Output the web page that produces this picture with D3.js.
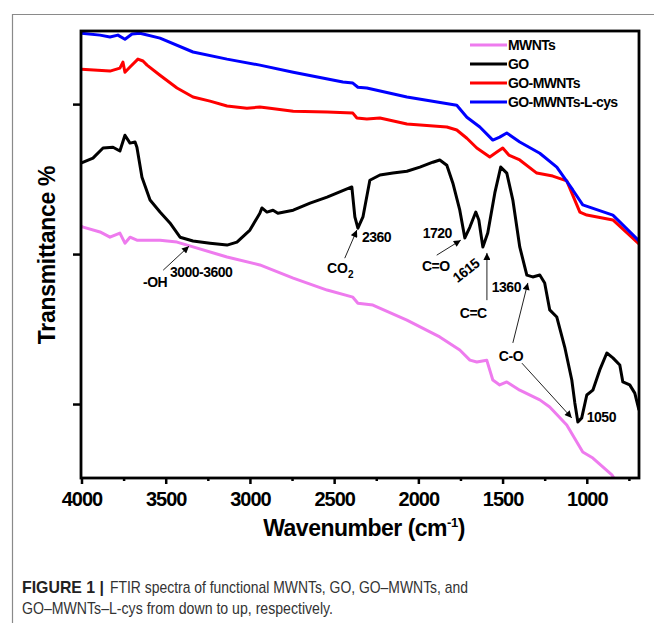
<!DOCTYPE html>
<html><head><meta charset="utf-8">
<script src="https://cdn.jsdelivr.net/npm/d3@7"></script>
<style>
body{margin:0;background:#fff;}
svg{display:block;font-family:"Liberation Sans",Arial,sans-serif;}
</style></head>
<body>
<svg id="c" width="654" height="623"></svg>
<script>
// ---- data (wavenumber cm-1, transmittance a.u.) ----
const seriesNames = ["MWNTs","GO","GO-MWNTs","GO-MWNTs-L-cys"];
const seriesColors = ["#ee7bee","#000000","#ff0000","#0000ff"];
const xTicks = [4000,3500,3000,2500,2000,1500,1000];
const xMinorTicks = [3750,3250,2750,2250,1750,1250,750];
const yTicks = [20,60,100];

const mwnts = [[4000,67.4],[3990,67.2],[3890,65.9],[3831,64.5],[3772,65.6],[3742,62.9],[3712,64.5],[3671,63.7],[3534,63.7],[3433,63.2],[3338,61.9],[3136,59.2],[2941,57.1],[2743,53.6],[2542,50.4],[2389,48.5],[2359,46.9],[2270,46.4],[2068,42.4],[1873,37.9],[1754,34.4],[1694,31.7],[1653,31.2],[1594,31.7],[1558,26.4],[1517,25.1],[1475,25.9],[1398,23.7],[1279,21.1],[1220,19.2],[1119,14.4],[1024,7.2],[964,5.6],[851,1.1],[840,0.3]];

const go = [[4000,84.3],[3932,85.6],[3872,88.3],[3813,88.5],[3772,87.5],[3742,91.7],[3712,89.6],[3682,89.9],[3671,88.5],[3641,80.5],[3593,74.4],[3534,71.2],[3475,68.3],[3415,64.5],[3338,63.5],[3237,62.9],[3136,62.4],[3077,63.2],[3000,66.4],[2941,70.9],[2929,72.3],[2899,71.2],[2863,71.7],[2834,70.9],[2743,71.7],[2643,73.6],[2542,75.2],[2395,77.9],[2377,69.9],[2359,66.9],[2329,69.9],[2288,79.7],[2228,81.1],[2151,81.6],[2068,82.1],[1991,83.2],[1914,84.5],[1873,85.1],[1831,83.7],[1795,78.9],[1754,71.7],[1724,64.3],[1694,67.2],[1659,71.2],[1641,69.1],[1617,61.9],[1588,65.6],[1546,76.3],[1511,83.2],[1475,81.6],[1439,74.4],[1398,61.9],[1356,54.4],[1321,53.9],[1279,54.4],[1250,52.3],[1220,45.1],[1178,43.2],[1131,35.2],[1089,26.4],[1071,20.3],[1053,15.2],[1030,16.3],[1000,22.4],[964,23.7],[923,29.1],[881,33.6],[845,32.3],[804,30.4],[786,25.9],[745,25.1],[715,22.9],[690,18.4]];

const goMwnts = [[4000,109.3],[3831,108.8],[3772,109.6],[3754,111.2],[3742,108.5],[3712,109.9],[3665,112.0],[3635,111.5],[3611,110.4],[3534,107.7],[3433,104.3],[3338,101.9],[3237,100.8],[3136,99.5],[3018,98.9],[2941,99.2],[2881,98.9],[2743,98.1],[2542,97.9],[2389,97.6],[2365,96.3],[2306,96.0],[2228,96.3],[2068,94.7],[1831,93.9],[1772,93.1],[1712,90.9],[1653,88.3],[1576,85.9],[1534,87.2],[1499,88.3],[1463,86.4],[1398,85.1],[1297,81.6],[1202,80.8],[1119,79.5],[1041,71.2],[1000,70.4],[845,69.1],[690,62.7]];

const goMwntsLcys = [[4000,118.9],[3890,118.4],[3831,117.9],[3784,118.4],[3742,117.3],[3700,118.7],[3653,118.9],[3534,117.6],[3338,113.9],[3136,112.0],[2941,110.4],[2743,108.5],[2448,105.9],[2389,105.6],[2359,104.5],[2306,104.3],[2068,101.9],[1772,99.7],[1712,96.5],[1635,93.9],[1558,90.4],[1517,91.2],[1475,92.3],[1398,89.9],[1279,86.9],[1178,83.2],[1083,77.1],[1024,73.1],[845,70.4],[690,63.5]];

const allSeries = [mwnts, go, goMwnts, goMwntsLcys];

// annotations: [text, wavenumber, T]
const labels = [["3000-3600",3475,55.2],["-OH",3635,52.5],["2360",2335,64.5],["1720",1974,65.6],["C=O",1979,56.8],["C=C",1754,44.3],["1360",1564,51.2],["C-O",1522,32.8],["1050",1000,16.5]];
const arrows = [[3515,55.7,3362,62.1],[2437,58.9,2365,66.4],[1891,59.7,1748,63.7],[1593,47.7,1593,60.3],[1439,36.3,1350,52.3],[1385,30.9,1089,16.3]];

// ---- layout ----
const svg = d3.select("#c");
const L=81, T=31, R=639, B=478;
const x = d3.scaleLinear().domain([4000,690]).range([81.5,639]);
const y = d3.scaleLinear().domain([0,119.5]).range([479,31]);

// outer figure frame
svg.append("path").attr("d","M12.5,623 L12.5,14.5 L654,14.5").attr("fill","none").attr("stroke","#8a8a8a").attr("stroke-width",1.2);

svg.append("defs").append("marker").attr("id","ah").attr("viewBox","0 0 10 10").attr("refX",10).attr("refY",5)
  .attr("markerWidth",9).attr("markerHeight",7).attr("markerUnits","userSpaceOnUse").attr("orient","auto")
  .append("path").attr("d","M0,0 L10,5 L0,10 z").attr("fill","#000");

svg.append("clipPath").attr("id","pc").append("rect").attr("x",L).attr("y",T).attr("width",R-L).attr("height",B-T);

const line = d3.line().x(d=>x(d[0])).y(d=>y(d[1]));
const g = svg.append("g").attr("clip-path","url(#pc)");
allSeries.forEach((s,i)=>{
  g.append("path").datum(s).attr("d",line).attr("fill","none").attr("stroke",seriesColors[i])
   .attr("stroke-width",3).attr("stroke-linejoin","round");
});

// axes
const xAxis = svg.append("g").attr("transform",`translate(0,${B})`)
  .call(d3.axisBottom(x).tickValues(xTicks).tickSize(6).tickFormat(d3.format("d")));
xAxis.select(".domain").remove();
xAxis.selectAll("line").attr("stroke-width",2.5);
xAxis.selectAll("text").attr("font-size",20).attr("font-weight","bold").attr("dy","0.95em").attr("fill","#000").style("letter-spacing","-1px");
const xMinor = svg.append("g").attr("transform",`translate(0,${B})`)
  .call(d3.axisBottom(x).tickValues(xMinorTicks).tickSize(3).tickFormat(""));
xMinor.select(".domain").remove();
xMinor.selectAll("line").attr("stroke-width",2.5);

const yAxis = svg.append("g").attr("transform",`translate(${L},0)`)
  .call(d3.axisLeft(y).tickValues(yTicks).tickSize(8).tickFormat(""));
yAxis.select(".domain").remove();
yAxis.selectAll("line").attr("stroke-width",2.5);

svg.append("rect").attr("x",L).attr("y",T).attr("width",R-L).attr("height",B-T)
  .attr("fill","none").attr("stroke","#000").attr("stroke-width",2.8);

// axis titles
const xt = svg.append("text").attr("x",364).attr("y",536).attr("text-anchor","middle")
  .attr("font-size",23).attr("font-weight","bold").style("letter-spacing","-0.5px");
xt.append("tspan").text("Wavenumber (cm");
xt.append("tspan").text("-1").attr("font-size",13).attr("dy",-9);
xt.append("tspan").text(")").attr("dy",9);

svg.append("text").attr("transform","translate(55,255) rotate(-90)").attr("text-anchor","middle")
  .attr("font-size",23).attr("font-weight","bold").style("letter-spacing","-0.3px").text("Transmittance %");

// legend
seriesNames.forEach((n,i)=>{
  const yy = 45 + i*19;
  svg.append("line").attr("x1",470).attr("x2",507).attr("y1",yy).attr("y2",yy).attr("stroke",seriesColors[i]).attr("stroke-width",3);
  svg.append("text").attr("x",508).attr("y",yy).attr("dy","0.36em").attr("font-size",14).attr("font-weight","bold").style("letter-spacing","-0.6px").text(n);
});

// annotations
const ann = svg.append("g").attr("font-size",14).attr("font-weight","bold");
labels.forEach(l=>{
  ann.append("text").attr("x",x(l[1])).attr("y",y(l[2])).attr("dy","0.36em").style("letter-spacing","-0.5px").text(l[0]);
});
const co2 = ann.append("text").attr("x",x(2543)).attr("y",y(56.3)).attr("dy","0.36em");
co2.append("tspan").text("CO");
co2.append("tspan").text("2").attr("font-size",10).attr("dy",5);
ann.append("text").attr("transform",`translate(${x(1718)},${y(55.7)}) rotate(-38)`).attr("text-anchor","middle").attr("dy","0.36em").style("letter-spacing","-0.5px").text("1615");
arrows.forEach(a=>{
  svg.append("line").attr("x1",x(a[0])).attr("y1",y(a[1])).attr("x2",x(a[2])).attr("y2",y(a[3]))
    .attr("stroke","#222").attr("stroke-width",1).attr("marker-end","url(#ah)");
});

// caption
svg.append("text").attr("x",22).attr("y",593).attr("font-size",17).attr("font-weight","bold").attr("fill","#222")
  .attr("textLength",82).attr("lengthAdjust","spacingAndGlyphs").text("FIGURE 1 |");
svg.append("text").attr("x",110).attr("y",593).attr("font-size",17).attr("fill","#333")
  .attr("textLength",358).attr("lengthAdjust","spacingAndGlyphs").text("FTIR spectra of functional MWNTs, GO, GO–MWNTs, and");
svg.append("text").attr("x",22).attr("y",614).attr("font-size",17).attr("fill","#333")
  .attr("textLength",311).attr("lengthAdjust","spacingAndGlyphs").text("GO–MWNTs–L-cys from down to up, respectively.");
</script>
</body></html>
